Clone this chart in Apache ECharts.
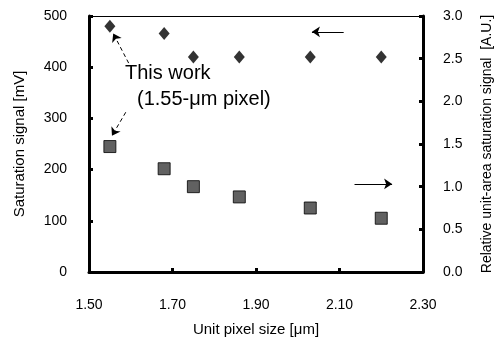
<!DOCTYPE html>
<html>
<head>
<meta charset="utf-8">
<script src="https://cdn.jsdelivr.net/npm/echarts@6/dist/echarts.min.js"></script>
<style>
  html, body { margin: 0; padding: 0; background: #fff; }
  #chart { width: 502px; height: 342px; }
</style>
</head>
<body>
<div id="chart"></div>
<script>
  // pixel size [um] for each measured sensor
  const pixelSize = [1.55, 1.68, 1.75, 1.86, 2.03, 2.20];
  // saturation signal [mV] (diamonds, left axis)
  const satSignal = [480, 466, 420, 420, 420, 420];
  // relative unit-area saturation signal [A.U.] (squares, right axis)
  const unitAreaSignal = [1.47, 1.21, 1.00, 0.88, 0.75, 0.63];

  // annotation arrows, in left-axis data coordinates [x, y]
  const arrows = [
    {from: [1.595, 408], to: [1.558, 466], dashed: true},
    {from: [1.588, 312], to: [1.555, 266], dashed: true},
    {from: [2.110, 469], to: [2.034, 469], dashed: false},
    {from: [2.136, 172], to: [2.226, 172], dashed: false}
  ];

  const font = 'Liberation Sans, Arial, sans-serif';
  const chart = echarts.init(document.getElementById('chart'));

  const thickLine = {show: true, onZero: false, lineStyle: {color: '#000', width: 3}};
  const thickTick = {show: true, inside: true, length: 4, lineStyle: {color: '#000', width: 3}};

  const option = {
    animation: false,
    grid: {left: 89, right: 67, top: 16, bottom: 70},
    xAxis: [{
      type: 'value',
      min: 1.5, max: 2.3, interval: 0.2,
      name: 'Unit pixel size [μm]',
      nameLocation: 'middle', nameGap: 50,
      nameTextStyle: {fontFamily: font, fontSize: 15, color: '#000'},
      axisLine: thickLine,
      axisTick: thickTick,
      axisLabel: {
        margin: 26, fontFamily: font, fontSize: 14, color: '#000',
        formatter: v => v.toFixed(2)
      },
      splitLine: {show: false}
    }, {
      // thin top frame line
      type: 'value', position: 'top',
      min: 1.5, max: 2.3,
      axisLine: {show: true, onZero: false, lineStyle: {color: '#000', width: 1}},
      axisTick: {show: false}, axisLabel: {show: false}, splitLine: {show: false}
    }],
    yAxis: [{
      type: 'value',
      min: 0, max: 500, interval: 100,
      name: 'Saturation signal [mV]',
      nameLocation: 'middle', nameGap: 62,
      nameTextStyle: {fontFamily: font, fontSize: 15, color: '#000'},
      axisLine: thickLine,
      axisTick: thickTick,
      axisLabel: {margin: 22, fontFamily: font, fontSize: 14, color: '#000'},
      splitLine: {show: false}
    }, {
      type: 'value',
      min: 0, max: 3, interval: 0.5,
      position: 'right',
      name: 'Relative unit-area saturation signal  [A.U.]',
      nameLocation: 'middle', nameGap: 57, nameRotate: 90,
      nameTextStyle: {fontFamily: font, fontSize: 14, color: '#000'},
      axisLine: thickLine,
      axisTick: thickTick,
      axisLabel: {
        margin: 20, fontFamily: font, fontSize: 14, color: '#000',
        formatter: v => v.toFixed(1)
      },
      splitLine: {show: false}
    }],
    series: [{
      type: 'scatter',
      yAxisIndex: 0,
      symbol: 'diamond',
      symbolSize: [11, 13],
      itemStyle: {color: '#000'},
      data: pixelSize.map((x, i) => [x, satSignal[i]]),
      markLine: {
        silent: true,
        symbol: ['none', 'arrow'],
        symbolSize: 8,
        label: {show: false},
        data: arrows.map(a => [
          {coord: a.from, lineStyle: {color: '#000', width: 1, type: a.dashed ? [4, 3] : 'solid'}},
          {coord: a.to}
        ])
      }
    }, {
      type: 'scatter',
      yAxisIndex: 1,
      symbol: 'rect',
      symbolSize: 12,
      itemStyle: {color: '#3a3a3a', borderColor: '#000', borderWidth: 1},
      data: pixelSize.map((x, i) => [x, unitAreaSignal[i]])
    }],
    graphic: [{
      type: 'text', left: 125, top: 63,
      style: {text: 'This work', font: '20px ' + font, fill: '#000'}
    }, {
      type: 'text', left: 137, top: 89,
      style: {text: '(1.55-μm pixel)', font: '20px ' + font, fill: '#000'}
    }]
  };

  chart.setOption(option);
</script>
</body>
</html>
